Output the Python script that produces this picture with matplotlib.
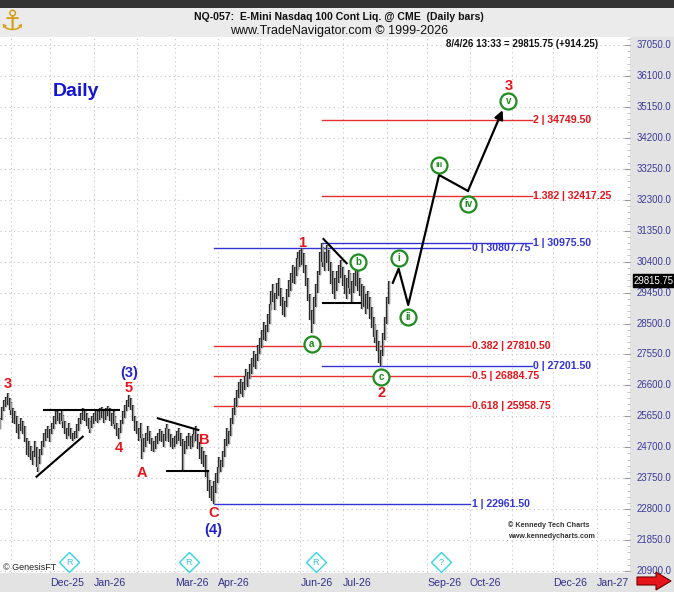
import numpy as np
import pandas as pd
import matplotlib
matplotlib.use('Agg')
import matplotlib.pyplot as plt
from matplotlib.patches import Rectangle, Polygon
import matplotlib.transforms as mtransforms
from matplotlib.ticker import MultipleLocator

plt.rcParams['font.family'] = ['Liberation Sans', 'DejaVu Sans']

# ---------------- data ----------------
first_bar = '2025-10-24'
last_bar = '2026-08-04'
highs = [25600,
    25950, 26150, 26250, 26370, 26200,
    26100, 25900, 25800, 25650, 25400,
    25600, 25500, 25350, 25000, 24900,
    24750, 24600, 24900, 24700, 24400,
    24650, 24900, 25150, 25250, 25350,
    25250, 25450, 25650, 25800, 25850,
    25750, 25850, 25700, 25500, 25300,
    25450, 25300, 25150, 25200, 25400,
    25600, 25750, 25900, 25850, 25750,
    25600, 25500, 25650, 25750, 25850,
    25800, 25900, 25950, 25850, 25900,
    25980, 25900, 25750, 25800, 25650,
    25450, 25300, 25550, 25800, 26000,
    26150, 26300, 26200, 26000, 25650,
    25500, 25300, 25450, 25100, 25000,
    25150, 25350, 25200, 25000, 24900,
    25050, 25150, 25250, 25200, 25100,
    25300, 25400, 25250, 25100, 25000,
    25050, 25200, 25300, 25150, 24950,
    24900, 25050, 25150, 25050, 25100,
    25250, 25350, 25100, 24850, 24700,
    24600, 24450, 24000, 23700, 23500,
    23650, 23900, 24100, 24400, 24300,
    24600, 24950, 25300, 25200, 25600,
    25900, 26200, 26450, 26700, 26800,
    26700, 26900, 27100, 27000, 27250,
    27450, 27650, 27550, 27850, 28050,
    28300, 28550, 28450, 28800, 29100,
    29500, 29700, 29450, 29750, 29900,
    29600, 29300, 29200, 29550, 29850,
    30050, 30300, 30250, 30500, 30700,
    30750, 30807.75, 30650, 30300, 29900,
    29400, 28900, 29300, 29700, 30100,
    30700, 30975.5, 30850, 30700, 30900,
    30750, 30400, 30100, 29900, 30100,
    30300, 30450, 30250, 30000, 29900,
    30150, 30050, 29800, 30050, 30200,
    30100, 29900, 29700, 29650, 29400,
    29500, 29300, 29000, 28700, 28500,
    28300, 27950, 27700, 28200, 28700,
    29300, 29815.75]
lows = [25250,
    25550, 25800, 25950, 26000, 25850,
    25700, 25450, 25400, 25150, 24950,
    25200, 25100, 24850, 24450, 24400,
    24300, 24150, 24400, 24100, 23950,
    24200, 24450, 24700, 24900, 25000,
    24850, 25100, 25250, 25400, 25500,
    25400, 25500, 25300, 25100, 24950,
    25050, 24950, 24900, 24950, 25000,
    25200, 25400, 25550, 25500, 25350,
    25250, 25150, 25300, 25400, 25500,
    25450, 25550, 25600, 25450, 25550,
    25650, 25500, 25350, 25400, 25250,
    25050, 24950, 25150, 25400, 25600,
    25800, 25950, 25850, 25500, 25200,
    25100, 24900, 25000, 24350, 24550,
    24700, 24900, 24800, 24600, 24550,
    24650, 24800, 24900, 24850, 24700,
    24900, 25000, 24850, 24700, 24650,
    24700, 24800, 24900, 24750, 24000,
    24500, 24650, 24750, 24650, 24700,
    24850, 24900, 24650, 24350, 24200,
    24100, 23800, 23350, 23150, 23050,
    22961.5, 23300, 23600, 23900, 23950,
    24100, 24400, 24750, 24800, 25050,
    25400, 25700, 25950, 26200, 26350,
    26250, 26450, 26600, 26550, 26800,
    26950, 27150, 27100, 27350, 27550,
    27750, 28000, 27950, 28250, 28500,
    28900, 29150, 28900, 29250, 29350,
    29050, 28750, 28700, 29000, 29300,
    29500, 29750, 29700, 29950, 30150,
    30250, 30300, 30050, 29650, 29200,
    28600, 28200, 28500, 29000, 29450,
    30000, 30400, 30250, 30100, 30350,
    30100, 29700, 29400, 29250, 29500,
    29750, 29900, 29650, 29400, 29250,
    29600, 29400, 29150, 29450, 29650,
    29500, 29350, 28950, 29000, 28800,
    28950, 28650, 28350, 28100, 27900,
    27650, 27300, 27201.5, 27500, 28000,
    28500, 29100]
last_price = 29815.75
last_change = 914.25
last_stamp = '8/4/26 13:33'

y_ticks = [37050, 36100, 35150, 34200, 33250, 32300, 31350, 30400, 29450,
           28500, 27550, 26600, 25650, 24700, 23750, 22800, 21850, 20900]
month_labels = ['Dec-25', 'Jan-26', 'Mar-26', 'Apr-26', 'Jun-26', 'Jul-26',
                'Sep-26', 'Oct-26', 'Dec-26', 'Jan-27']
month_label_dates = ['2025-12-01', '2026-01-01', '2026-03-02', '2026-04-01',
                     '2026-06-01', '2026-07-01', '2026-09-01', '2026-10-01',
                     '2026-12-01', '2027-01-01']
grid_month_dates = ['2025-11-03', '2025-12-01', '2026-01-01', '2026-02-02',
                    '2026-03-02', '2026-04-01', '2026-05-01', '2026-06-01',
                    '2026-07-01', '2026-08-03', '2026-09-01', '2026-10-01',
                    '2026-11-02', '2026-12-01', '2027-01-01']

# Fibonacci levels: value, label, colour key, start date, end date
fib_values = [34749.50, 32417.25, 30975.50, 30807.75, 27810.50, 27201.50,
              26884.75, 25958.75, 22961.50]
fib_labels = ['2 | 34749.50', '1.382 | 32417.25', '1 | 30975.50',
              '0 | 30807.75', '0.382 | 27810.50', '0 | 27201.50',
              '0.5 | 26884.75', '0.618 | 25958.75', '1 | 22961.50']
fib_colors = ['red', 'red', 'blue', 'blue', 'red', 'blue', 'red', 'red', 'blue']
fib_starts = ['2026-06-16', '2026-06-16', '2026-06-16', '2026-03-30',
              '2026-03-30', '2026-06-16', '2026-03-30', '2026-03-30',
              '2026-03-30']
fib_ends = ['2026-11-16', '2026-11-16', '2026-11-16', '2026-10-01',
            '2026-10-01', '2026-11-16', '2026-10-01', '2026-10-01',
            '2026-10-01']

# projected wave path (i .. v)
proj_dates = ['2026-08-06', '2026-08-11', '2026-08-18', '2026-09-09',
              '2026-09-30', '2026-10-26']
proj_prices = [29750, 30180, 29070, 33060, 32570, 35050]

# hand-drawn trend lines (pairs of points)
trend_lines = [
    (('2025-11-26', 25845), ('2026-01-20', 25845)),
    (('2025-11-20', 23797), ('2025-12-24', 25025)),
    (('2026-02-17', 25590), ('2026-03-18', 25230)),
    (('2026-02-24', 23981), ('2026-03-25', 23981)),
    (('2026-06-17', 31094), ('2026-07-03', 30348)),
    (('2026-06-17', 29140), ('2026-07-14', 29140)),
]

# wave labels: text, date, price, colour
wave_labels = [
    ('3', '2025-10-30', 26650, 'red'),
    ('(3)', '2026-01-27', 26990, 'blue'),
    ('5', '2026-01-27', 26520, 'red'),
    ('4', '2026-01-20', 24678, 'red'),
    ('A', '2026-02-05', 23910, 'red'),
    ('B', '2026-03-23', 24924, 'red'),
    ('C', '2026-03-30', 22682, 'red'),
    ('(4)', '2026-03-30', 22160, 'blue'),
    ('1', '2026-06-02', 30980, 'red'),
    ('2', '2026-07-29', 26357, 'red'),
    ('3', '2026-10-29', 35791, 'red'),
]
circle_labels = [
    ('a', '2026-06-09', 27871),
    ('b', '2026-07-13', 30397),
    ('c', '2026-07-29', 26867),
    ('i', '2026-08-11', 30520),
    ('ii', '2026-08-18', 28690),
    ('iii', '2026-09-09', 33366),
    ('iv', '2026-09-30', 32169),
    ('v', '2026-10-29', 35340),
]
marker_dates = ['2025-12-15', '2026-03-11', '2026-06-11', '2026-09-10']
marker_texts = ['R', 'R', 'R', '?']

# ---------------- helpers ----------------
ORIGIN = '2025-12-01'


def ti(d):
    return int(np.busday_count(ORIGIN, d))


W, H = 674, 592


def fx(px):
    return px / W


def fy(py):
    return 1 - py / H


RED = '#e8141c'
BLUE = '#2323d0'
FIBBLUE = '#3333d8'
GREEN = '#1e8c1e'
colmap = {'red': RED, 'blue': BLUE}

fig = plt.figure(figsize=(W / 100, H / 100), dpi=100)
fig.patch.set_facecolor('white')

# background strips (drawn below everything)
strips = [
    ((0, fy(37)), 1, 1 - fy(37), '#ebebeb'),
    ((0, fy(8)), 1, 1 - fy(8), '#333333'),
    ((fx(630), 0), 1 - fx(630), fy(37), '#e3e3e3'),
    ((0, 0), 1, fy(573), '#e3e3e3'),
]
for xy, w, h, c in strips:
    fig.patches.append(Rectangle(xy, w, h, transform=fig.transFigure,
                                 facecolor=c, edgecolor='none', zorder=-10))

ax = fig.add_axes([0, fy(573), fx(630), fy(37) - fy(573)])
ax.set_zorder(1)
ax.set_facecolor('white')
y_lo, y_hi = 20840, 37296
ax.set_ylim(y_lo, y_hi)
x_lo = (0 - 50) / 1.926
x_hi = (630 - 50) / 1.926
ax.set_xlim(x_lo, x_hi)
for s in ax.spines.values():
    s.set_visible(False)

# grid
for d in grid_month_dates:
    ax.axvline(ti(d), color='#c4c4c4', lw=0.8, ls=(0, (1, 3)), zorder=0)
for v in y_ticks:
    ax.axhline(v, color='#c4c4c4', lw=0.8, ls=(0, (1, 3)), zorder=0)

# ticks on right edge (marks only)
ax.yaxis.set_ticks_position('right')
ax.yaxis.set_major_locator(MultipleLocator(950))
ax.yaxis.set_minor_locator(MultipleLocator(190))
ax.tick_params(axis='y', which='major', length=4, color='#999999', labelright=False, direction='in')
ax.tick_params(axis='y', which='minor', length=2, color='#bbbbbb', direction='in')
ax.set_xticks([])

# price bars
dates = pd.bdate_range(first_bar, last_bar)
assert len(dates) == len(highs) == len(lows)
xs = [ti(d.strftime('%Y-%m-%d')) for d in dates]
ax.vlines(xs, lows, highs, color='#2a2a2a', lw=1.7, zorder=3)
ax.vlines(xs, lows, highs, color='#999999', lw=0.7, zorder=3)

# fib lines
for v, lab, c, s, e in zip(fib_values, fib_labels, fib_colors, fib_starts, fib_ends):
    col = '#e83030' if c == 'red' else FIBBLUE
    ax.plot([ti(s), ti(e)], [v, v], color=col, lw=1.0, zorder=2)
    ax.text(ti(e) + 1.0, v, lab, color=RED if c == 'red' else FIBBLUE,
            fontsize=7.6, fontweight='bold', va='center', ha='left', zorder=5)

# trend lines
for (d1, p1), (d2, p2) in trend_lines:
    ax.plot([ti(d1), ti(d2)], [p1, p2], color='black', lw=1.5, zorder=4)

# projection path
px_ = [ti(d) for d in proj_dates]
ax.plot(px_[:-1], proj_prices[:-1], color='black', lw=1.6, zorder=4)
ax.annotate('', xy=(px_[-1], proj_prices[-1]), xytext=(px_[-2], proj_prices[-2]),
            arrowprops=dict(arrowstyle='-|>', color='black', lw=1.6, mutation_scale=13,
                            shrinkA=0, shrinkB=0), zorder=4)

# wave labels
for t, d, p, c in wave_labels:
    ax.text(ti(d), p, t, color=colmap[c], fontsize=10.5, fontweight='bold',
            ha='center', va='center', zorder=6)

# circle labels
for t, d, p in circle_labels:
    ax.plot(ti(d), p, marker='o', ms=11.5, mfc='white', mec=GREEN, mew=1.6, zorder=6)
    ax.text(ti(d), p, t, color=GREEN, fontsize=7 if len(t) < 3 else 6,
            fontweight='bold', ha='center', va='center', zorder=7)

# right axis labels
tr = mtransforms.blended_transform_factory(ax.transAxes, ax.transData)
for v in y_ticks:
    ax.text(637 / 630, v, f'{v:.1f}', transform=tr, fontsize=6.9, color='#3a3a9a',
            ha='left', va='center', clip_on=False, zorder=8)

# current price box
ax.text(634 / 630, last_price, f'{last_price:.2f}', transform=tr, fontsize=6.9,
        color='white', ha='left', va='center', clip_on=False, zorder=10,
        bbox=dict(boxstyle='square,pad=0.15', facecolor='black', edgecolor='black'))

# bottom month labels
trx = mtransforms.blended_transform_factory(ax.transData, fig.transFigure)
for lab, d in zip(month_labels, month_label_dates):
    ax.text(ti(d), fy(583), lab, transform=trx, fontsize=7.6, color='#30308a',
            ha='left', va='center', clip_on=False, zorder=8)

# cyan diamond markers
trm = mtransforms.blended_transform_factory(ax.transData, ax.transAxes)
for d, t in zip(marker_dates, marker_texts):
    ax.plot(ti(d), 0.02, marker='D', ms=10, mfc='white', mec='#33d6e6', mew=1.0,
            transform=trm, clip_on=False, zorder=6)
    ax.text(ti(d), 0.02, t, transform=trm, fontsize=6.5, color='#33c8dd',
            ha='center', va='center', zorder=7, clip_on=False)

# header texts
fig.text(fx(339), fy(17), 'NQ-057:  E-Mini Nasdaq 100 Cont Liq. @ CME  (Daily bars)',
         fontsize=7.6, fontweight='bold', ha='center', va='center', color='#111111')
fig.text(fx(339), fy(31), 'www.TradeNavigator.com \u00a9 1999-2026',
         fontsize=9, ha='center', va='center', color='#111111')
fig.text(fx(598), fy(44), f'{last_stamp} = {last_price:.2f} (+{last_change:.2f})',
         fontsize=7, fontweight='bold', ha='right', va='center', color='#111111', zorder=9)
fig.text(fx(12), fy(22), '\u2693', fontsize=20, color='#d4a017', ha='center', va='center',
         family=['DejaVu Sans'])

fig.text(fx(53), fy(91), 'Daily', fontsize=14, fontweight='bold', color='#1414d2',
         ha='left', va='center', zorder=9)
fig.text(fx(508), fy(525), '\u00a9 Kennedy Tech Charts', fontsize=5.2, fontweight='bold',
         color='#333333', ha='left', va='center', zorder=9)
fig.text(fx(508), fy(536), 'www.kennedycharts.com', fontsize=5.2, fontweight='bold',
         color='#333333', ha='left', va='center', zorder=9)
fig.text(fx(3), fy(567), '\u00a9 GenesisFT', fontsize=6.5, color='#222222',
         ha='left', va='center', zorder=9)

# red arrow bottom-right
arrow_px = [(637, 577), (656, 577), (656, 572), (671, 581), (656, 590), (656, 585), (637, 585)]
fig.patches.append(Polygon([(fx(a), fy(b)) for a, b in arrow_px], closed=True,
                           transform=fig.transFigure, facecolor='#e8141c',
                           edgecolor='#700000', lw=0.8, zorder=5))

fig.savefig('out.png', dpi=100)
